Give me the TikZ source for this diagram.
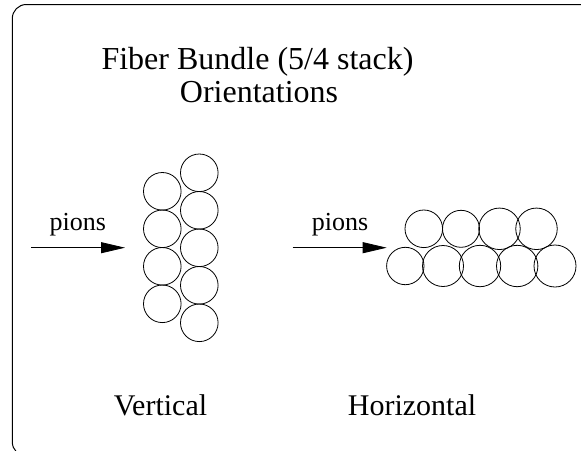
\documentclass[tikz,border=0pt]{standalone}
\usepackage{fontspec}
\setmainfont{Liberation Serif}
\usetikzlibrary{arrows.meta,positioning}

\begin{document}
\begin{tikzpicture}[x=1pt,y=-1pt,line width=0.8pt,
    fiber/.style={circle,draw,inner sep=0pt,minimum size=#1},
    fiber/.default=37.6pt,
    beam/.style={-{Triangle[length=24pt,width=11pt]}},
    heading/.style={anchor=base,font=\fontsize{32}{34}\selectfont},
    caption/.style={anchor=base,font=\fontsize{30}{32}\selectfont},
    tag/.style={anchor=base,font=\fontsize{26}{28}\selectfont}]
  \useasboundingbox (0,0) rectangle (581,450);
  % frame, only left part visible
  \draw[rounded corners=14pt,line width=1pt] (650,456) -- (12.3,456) -- (12.3,4.5) -- (650,4.5);
  \node[heading] (title) at (257.5,69) {Fiber Bundle (5/4 stack)};
  \node[heading] (subtitle) at (259,102) {Orientations};

  % vertical stack
  \foreach \y [count=\i] in {191.3,228.8,266.3,303.8}
    \node[fiber] (vl\i) at (162.3,\y) {};
  \foreach \y [count=\i] in {172.8,210.3,247.8,285.3,322.8}
    \node[fiber] (vr\i) at (199.3,\y) {};
  \coordinate (vsrc) at (31,247.7);
  \coordinate (vdst) at (125,247.7);
  \draw[beam] (vsrc) -- (vdst);
  \node[tag] (vpions) at (77.7,230) {pions};
  \node[caption] (vert) at (160.5,415) {Vertical};

  % horizontal stack
  \foreach \x/\d [count=\i] in {423.8/37.6, 461/37, 499.5/41.5, 536.5/41.5}
    \node[fiber=\d pt] (ht\i) at (\x,228.8) {};
  \foreach \x/\d [count=\i] in {405.3/37.4, 443/41, 480/41.4, 517.2/41.4, 555/42}
    \node[fiber=\d pt] (hb\i) at (\x,266) {};
  \coordinate (hsrc) at (292.7,247.7);
  \coordinate (hdst) at (386.7,247.7);
  \draw[beam] (hsrc) -- (hdst);
  \node[tag] (hpions) at (340,230) {pions};
  \node[caption] (horiz) at (412,415) {Horizontal};
\end{tikzpicture}
\end{document}
